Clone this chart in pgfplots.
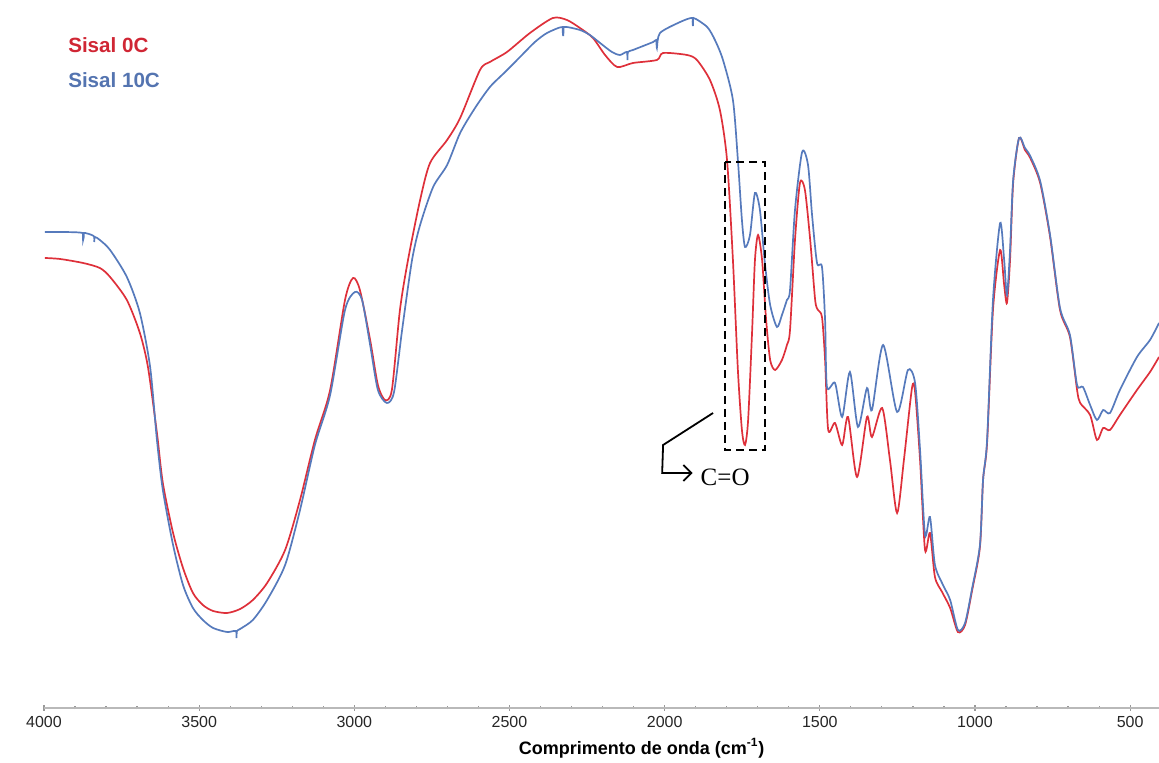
\documentclass[border=0pt]{standalone}
\usepackage{fontspec}
\setmainfont{Liberation Sans}
\newfontfamily\serifC{Liberation Serif}
\usepackage{pgfplots}
\pgfplotsset{compat=1.18}
\usetikzlibrary{arrows.meta}

\definecolor{cred}{RGB}{222,48,58}
\definecolor{cblue}{RGB}{86,122,188}
\definecolor{lred}{RGB}{208,38,52}
\definecolor{lblue}{RGB}{84,116,176}

\begin{document}
\begin{tikzpicture}
\useasboundingbox (-22pt,-27.5pt) rectangle (557.5pt,354pt);
\begin{axis}[
    scale only axis,
    width=557.5pt, height=354pt,
    x dir=reverse,
    xmin=407, xmax=4000,
    ymin=0, ymax=708,
    axis x line*=bottom,
    axis y line=none,
    x axis line style={draw=gray!55, line width=1pt},
    xtick={500,1000,...,4000},
    minor x tick num=4,
    tick align=center,
    major tick length=3pt,
    minor tick length=1.5pt,
    every tick/.style={draw=gray!80, line width=0.6pt},
    xticklabel style={font=\fontsize{8}{9}\selectfont, text=black!85, yshift=1pt},
    /pgf/number format/assume math mode=true,
    /pgf/number format/set thousands separator={},
    xlabel={\textbf{Comprimento de onda (cm\textsuperscript{-1})}},
    xlabel style={font=\fontsize{9}{10}\selectfont, at={(axis description cs:0.536,0)}, anchor=center, yshift=-20pt},
    clip=false,
    every axis plot/.append style={line width=0.85pt, smooth, tension=0.45},
]
% Sisal 0C
\addplot[cred] coordinates {
(3997,450) (3948,449) (3874,445) (3820,440) (3787,431) (3733,408) (3691,375)
(3665,341) (3636,275) (3617,225) (3584,175) (3552,140) (3520,115) (3488,103)
(3455,97) (3410,95) (3368,99) (3327,108) (3281,125) (3223,158) (3175,208)
(3127,268) (3078,318) (3030,408) (3004,430) (2982,418) (2949,368) (2924,323)
(2901,308) (2879,318) (2853,398) (2827,448) (2788,508) (2756,545) (2701,568)
(2659,590) (2595,638) (2563,646) (2508,656) (2434,675) (2360,690) (2315,688)
(2273,680) (2231,670) (2192,653) (2153,641) (2102,645) (2025,648) (2005,655)
(1928,653) (1896,648) (1854,628) (1822,598) (1799,548) (1780,448) (1764,338)
(1751,278) (1741,263) (1731,288) (1718,378) (1709,448) (1699,473) (1686,448)
(1673,388) (1660,348) (1644,338) (1622,348) (1606,363) (1596,378) (1580,468)
(1564,525) (1548,518) (1531,468) (1515,408) (1506,398) (1493,391) (1483,348)
(1473,278) (1451,285) (1428,263) (1409,291) (1380,231) (1348,291) (1332,271)
(1299,300) (1274,248) (1251,195) (1229,248) (1203,320) (1193,316) (1177,248)
(1161,158) (1145,175) (1129,131) (1106,116) (1080,100) (1055,76) (1032,83)
(1009,118) (984,161) (974,228) (961,265) (942,398) (919,458) (906,423)
(897,405) (887,448) (877,525) (858,570) (839,558) (822,550) (790,525)
(758,471) (726,398) (694,371) (671,318) (661,305) (629,293) (607,268)
(587,280) (565,278) (533,293) (478,318) (436,336) (407,351)
};
% Sisal 10C
\addplot[cblue] coordinates {
(3997,476) (3948,476) (3876,475) (3874,468) (3872,475) (3840,472) (3838,466)
(3836,471) (3820,468) (3787,458) (3733,431) (3691,395)
(3658,341) (3636,268) (3617,218) (3584,163) (3552,123) (3520,100) (3488,88)
(3455,80) (3410,76) (3382,77) (3380,70) (3378,77) (3368,79) (3327,88) (3281,108)
(3223,143) (3175,198)
(3127,263) (3078,313) (3030,398) (2998,416) (2975,408) (2949,363) (2924,318)
(2895,305) (2872,316) (2846,378) (2814,448) (2788,483) (2746,521) (2701,543)
(2659,575) (2611,600) (2563,621) (2514,636) (2466,651) (2418,666) (2379,675)
(2329,681) (2327,672) (2325,681) (2273,678) (2241,673) (2208,665) (2170,656)
(2144,653) (2122,656) (2120,648) (2118,656) (2102,658)
(2037,666) (2027,668) (2025,660) (2015,675) (1950,686) (1911,690) (1909,682)
(1907,690) (1863,681) (1838,668) (1812,648)
(1780,608) (1764,548) (1751,488) (1741,461) (1725,473) (1709,515) (1693,498)
(1677,445) (1660,403) (1638,381) (1622,393) (1606,408) (1596,418) (1580,498)
(1557,556) (1538,543) (1525,493) (1509,445) (1493,441) (1483,388) (1477,321)
(1451,325) (1428,291) (1403,336) (1377,281) (1348,320) (1332,298) (1296,363)
(1251,296) (1216,338) (1193,325) (1177,258) (1161,173) (1145,191) (1129,143)
(1103,123) (1080,108) (1055,78) (1032,85) (1009,120) (984,163) (974,228)
(961,268) (942,408) (919,485) (906,448) (897,413) (887,458) (877,528)
(858,570) (839,560) (822,552) (790,527) (758,473) (726,400) (694,373)
(671,323) (652,321) (629,303) (607,288) (587,298) (565,295) (533,318)
(478,351) (436,368) (407,385)
};
% annotations
\draw[black, line width=1.1pt, dash pattern=on 4pt off 2.5pt]
  (axis cs:1805,546) rectangle (axis cs:1676,258);
\draw[black, line width=0.9pt, -{Straight Barb[length=4pt, width=8pt]}]
  (axis cs:1844,295) -- (axis cs:2005,263) -- (axis cs:2008,235) -- (axis cs:1910,235);
\node[anchor=west, inner sep=0pt, font=\serifC\fontsize{12.5}{13}\selectfont]
  at (axis cs:1885,231) {C=O};
\node[anchor=west, inner sep=0pt, text=lred, font=\bfseries\fontsize{10.3}{12}\selectfont]
  at (axis cs:3923,663) {Sisal 0C};
\node[anchor=west, inner sep=0pt, text=lblue, font=\bfseries\fontsize{10.3}{12}\selectfont]
  at (axis cs:3923,628) {Sisal 10C};
\end{axis}
\end{tikzpicture}
\end{document}
